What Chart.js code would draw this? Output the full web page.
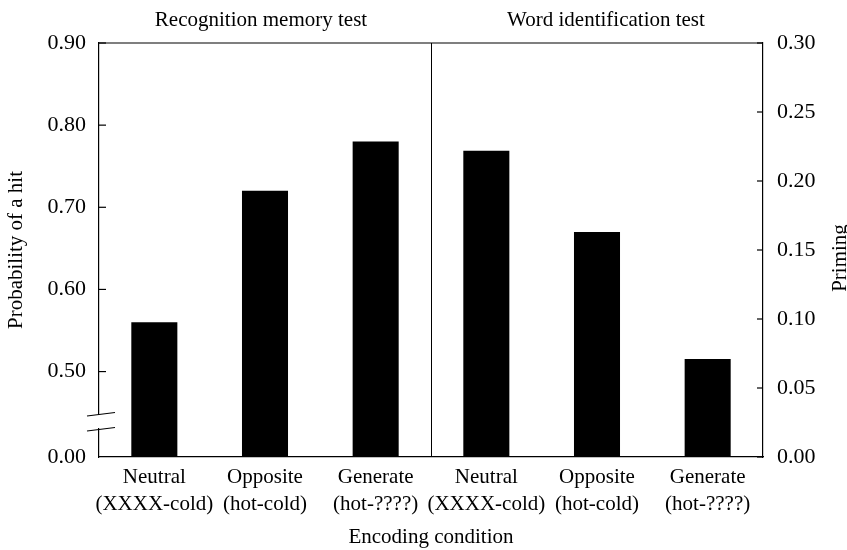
<!DOCTYPE html>
<html>
<head>
<meta charset="utf-8">
<title>Encoding condition</title>
<script src="https://cdn.jsdelivr.net/npm/chart.js@4.4.1/dist/chart.umd.min.js"></script>
<style>
  body { margin: 0; background: #fff; }
  #wrap { width: 847px; height: 550px; }
</style>
</head>
<body>
<div id="wrap"><canvas id="chart" width="847" height="550"></canvas></div>
<script>
/************** DATA **************/
const conditions = [
  ["Neutral", "(XXXX-cold)"],
  ["Opposite", "(hot-cold)"],
  ["Generate", "(hot-????)"],
  ["Neutral", "(XXXX-cold)"],
  ["Opposite", "(hot-cold)"],
  ["Generate", "(hot-????)"]
];
const panelTitles = ["Recognition memory test", "Word identification test"];

// recognition memory: probability of a hit (left axis)
const hitProb = [0.56, 0.72, 0.78, null, null, null];
// word identification: priming (right axis)
const priming = [null, null, null, 0.222, 0.163, 0.071];

const hitTicks = [0.5, 0.6, 0.7, 0.8, 0.9];
const hitBreakBase = 0.396;   // where "0.00" sits below the axis break
const primingTicks = [0, 0.05, 0.1, 0.15, 0.2, 0.25, 0.3];

/************** STYLE **************/
const FONT = "'Liberation Serif', 'DejaVu Serif', serif";
Chart.defaults.color = "#000";
Chart.defaults.font.family = FONT;
Chart.defaults.font.size = 21;

const AXIS_W = 1.2;

/************** PLUGIN: frame, inward ticks, break, titles **************/
const framePlugin = {
  id: "frame",
  afterDraw(chart) {
    const { ctx, chartArea: a, scales } = chart;
    const x = scales.x, yL = scales.y, yR = scales.y2;
    ctx.save();
    ctx.strokeStyle = "#000";
    ctx.lineWidth = AXIS_W;

    // top border
    ctx.beginPath();
    ctx.moveTo(a.left, a.top);
    ctx.lineTo(a.right, a.top);
    ctx.stroke();

    // divider between the two tests
    const midX = Math.round((x.getPixelForValue(2) + x.getPixelForValue(3)) / 2) + 0.5;
    ctx.lineWidth = 1;
    ctx.beginPath();
    ctx.moveTo(midX, a.top);
    ctx.lineTo(midX, a.bottom);
    ctx.stroke();

    // inward tick marks
    ctx.lineWidth = AXIS_W;
    hitTicks.forEach(v => {
      const py = yL.getPixelForValue(v);
      ctx.beginPath();
      ctx.moveTo(a.left, py);
      ctx.lineTo(a.left + 7, py);
      ctx.stroke();
    });
    primingTicks.forEach(v => {
      const py = yR.getPixelForValue(v);
      ctx.beginPath();
      ctx.moveTo(a.right, py);
      ctx.lineTo(a.right - 6, py);
      ctx.stroke();
    });

    // axis break on the left
    const b1 = a.bottom - 43, b2 = a.bottom - 28;
    ctx.fillStyle = "#fff";
    ctx.fillRect(a.left - 2, b1 + 1, 4, b2 - b1 - 2);
    ctx.lineWidth = 1.2;
    [b1, b2].forEach(by => {
      ctx.beginPath();
      ctx.moveTo(a.left - 12, by + 2);
      ctx.lineTo(a.left + 16, by - 1.5);
      ctx.stroke();
    });

    // panel titles
    ctx.fillStyle = "#000";
    ctx.font = "21px " + FONT;
    ctx.textAlign = "center";
    ctx.textBaseline = "middle";
    ctx.fillText(panelTitles[0], x.getPixelForValue(1) - 4, 20);
    ctx.fillText(panelTitles[1], x.getPixelForValue(4) + 9, 20);

    // right axis title, reading bottom to top
    ctx.translate(840, (a.top + a.bottom) / 2 + 8);
    ctx.rotate(-Math.PI / 2);
    ctx.fillText("Priming", 0, 0);
    ctx.restore();
  }
};

/************** CHART **************/
const ctx = document.getElementById("chart").getContext("2d");

new Chart(ctx, {
  type: "bar",
  data: {
    labels: conditions,
    datasets: [
      {
        label: "Probability of a hit",
        data: hitProb,
        yAxisID: "y",
        backgroundColor: "#000",
        borderWidth: 0,
        grouped: false,
        categoryPercentage: 1,
        barPercentage: 0.416
      },
      {
        label: "Priming",
        data: priming,
        yAxisID: "y2",
        backgroundColor: "#000",
        borderWidth: 0,
        grouped: false,
        categoryPercentage: 1,
        barPercentage: 0.416
      }
    ]
  },
  options: {
    responsive: false,
    animation: false,
    layout: { padding: { top: 43, left: 0, right: 0, bottom: 0 } },
    plugins: {
      legend: { display: false },
      tooltip: { enabled: false }
    },
    scales: {
      x: {
        grid: { display: false, drawTicks: false },
        border: { display: true, color: "#000", width: AXIS_W },
        ticks: {
          padding: 7,
          maxRotation: 0,
          autoSkip: false,
          font: { size: 21, lineHeight: 1.3 }
        },
        title: {
          display: true,
          text: "Encoding condition",
          font: { size: 21, lineHeight: 1.2 },
          padding: { top: 0, bottom: 0 }
        },
        afterFit: s => { s.height = 93; }
      },
      y: {
        position: "left",
        min: hitBreakBase,
        max: 0.9,
        grid: { display: false, drawTicks: false },
        border: { display: true, color: "#000", width: AXIS_W },
        afterBuildTicks: s => {
          s.ticks = [hitBreakBase].concat(hitTicks).map(v => ({ value: v }));
        },
        ticks: {
          padding: 13,
          font: { size: 22 },
          callback: v => (v < 0.45 ? "0.00" : Number(v).toFixed(2))
        },
        title: {
          display: true,
          text: "Probability of a hit",
          font: { size: 21, lineHeight: 1.2 },
          padding: { top: 4, bottom: 0 }
        },
        afterFit: s => { s.width = 99; }
      },
      y2: {
        position: "right",
        min: 0,
        max: 0.3,
        grid: { display: false, drawTicks: false },
        border: { display: true, color: "#000", width: AXIS_W },
        afterBuildTicks: s => {
          s.ticks = primingTicks.map(v => ({ value: v }));
        },
        ticks: {
          padding: 14,
          font: { size: 22 },
          callback: v => Number(v).toFixed(2)
        },
        afterFit: s => { s.width = 84; }
      }
    }
  },
  plugins: [framePlugin]
});
</script>
</body>
</html>
